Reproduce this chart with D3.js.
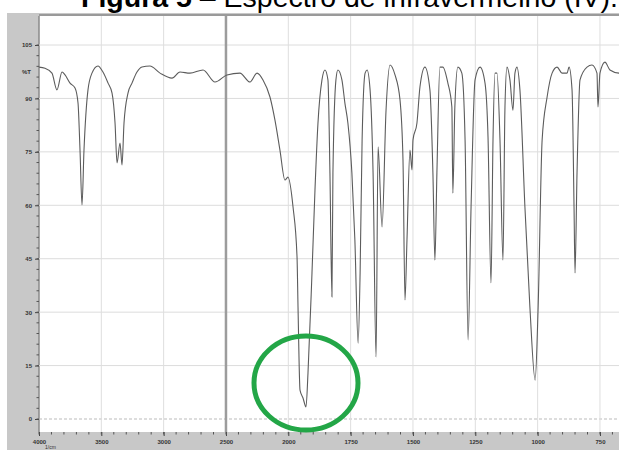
<!DOCTYPE html>
<html>
<head>
<meta charset="utf-8">
<script src="https://cdn.jsdelivr.net/npm/d3@7"></script>
<style>
  body { margin: 0; background: #fff; }
  svg { display: block; font-family: "Liberation Sans", Arial, sans-serif; }
</style>
</head>
<body>
<div id="chart"></div>
<script>
// wavenumbers (cm-1) and transmittance (%T)
let wavenumber = [4000,3952,3896,3856,3815,3791,3751,3711,3687,3671,3655,3639,3607,3575,3527,3487,3446,3414,3390,3374,
  3350,3334,3318,3286,3254,3214,3174,3110,3029,2933,2869,2789,2684,2588,2492,2388,2307,2251,2203,2147,
  2107,2067,2027,2003,1981,1965,1961,1953,1941,1929,1921,1905,1893,1881,1865,1853,1841,1833,1825,1821,
  1809,1801,1785,1773,1761,1745,1733,1720,1712,1704,1692,1684,1672,1660,1648,1640,1624,1608,1592,1572,
  1552,1540,1532,1524,1512,1504,1500,1484,1472,1452,1432,1420,1412,1404,1392,1380,1360,1344,1340,1332,
  1320,1304,1291,1279,1267,1251,1231,1211,1199,1187,1179,1171,1163,1151,1139,1131,1123,1111,1099,1091,
  1083,1071,1051,1031,1010,998,982,962,942,922,902,882,874,862,854,850,842,830,802,782,
  762,758,750,730,710,674,650];
let transmittance = [98.8,98.5,97.1,92.4,97.4,96.6,94.3,92.9,88.7,75.5,60.1,75.5,92.4,97.1,99.1,97.4,94.3,91.5,83.1,71.9,
  77.5,71.3,83.1,91.5,94.3,97.4,98.8,99.1,97.1,95.7,97.4,97.1,98.0,94.6,96.6,97.1,94.6,97.1,95.2,90.4,
  83.9,75.5,67.1,67.9,59.5,45.5,31.4,8.1,5.9,3.4,12.9,41.0,64.3,83.1,95.2,98.0,95.2,69.1,34.3,69.1,
  95.2,98.0,95.2,88.7,83.1,69.1,50.3,21.3,41.0,78.3,97.1,98.0,92.4,69.1,17.4,76.4,53.9,86.7,99.4,96.6,
  89.6,72.7,33.4,50.3,75.5,69.9,78.3,83.1,93.2,98.8,92.4,69.1,44.6,69.1,98.8,98.8,94.3,87.6,63.4,87.6,
  98.8,97.1,78.3,22.2,59.5,95.2,98.8,94.3,79.2,38.2,78.3,97.1,97.1,78.3,44.6,87.6,98.8,95.2,86.7,97.1,
  98.8,92.4,59.5,31.4,10.9,31.4,78.3,90.4,97.1,98.8,97.1,97.1,98.8,92.4,59.5,41.0,69.1,95.2,98.8,99.4,
  97.1,87.6,97.1,100.2,98.0,97.1,97];

let xTicks = [4000,3500,3000,2500,2000,1750,1500,1250,1000,750];
let yTicks = [0,15,30,45,60,75,90,105];
let titleBold = "Figura 5";
let titleRest = " \u2013 Espectro de infravermelho (IV).";

let W = 619, H = 450;
let pLeft = 39, pRight = 619, pTop = 16, pBottom = 432;

let svg = d3.select("#chart").append("svg")
  .attr("width", W).attr("height", H);

// frame
svg.append("rect").attr("x",7).attr("y",13).attr("width",W-7).attr("height",H-13).attr("fill","#c8c8c8");
svg.append("rect").attr("x",pLeft).attr("y",pTop).attr("width",pRight-pLeft).attr("height",pBottom-pTop).attr("fill","#fff");
svg.append("line").attr("x1",pLeft).attr("x2",pRight).attr("y1",pTop-1).attr("y2",pTop-1).attr("stroke","#9a9a9a").attr("stroke-width",2);
svg.append("line").attr("x1",pLeft).attr("x2",pLeft).attr("y1",pTop).attr("y2",pBottom).attr("stroke","#8a8a8a").attr("stroke-width",1.5);

// scales: 2x expanded below 2000 cm-1
let x = d3.scaleLinear().domain([4000,2000,500]).range([39,288.3,662.3]);
let y = d3.scaleLinear().domain([0,105]).range([419,45]);

svg.append("clipPath").attr("id","clip")
  .append("rect").attr("x",pLeft).attr("y",pTop).attr("width",pRight-pLeft).attr("height",pBottom-pTop);

let plot = svg.append("g").attr("clip-path","url(#clip)");

// grid
plot.selectAll(".hg").data(yTicks).enter().append("line")
  .attr("x1",pLeft).attr("x2",pRight)
  .attr("y1",d=>y(d)).attr("y2",d=>y(d))
  .attr("stroke",d=> d==0 ? "#bbb" : "#dcdcdc")
  .attr("stroke-dasharray",d=> d==0 ? "3,2" : null);
plot.selectAll(".vg").data(xTicks.slice(1)).enter().append("line")
  .attr("x1",d=>x(d)).attr("x2",d=>x(d))
  .attr("y1",pTop).attr("y2",pBottom)
  .attr("stroke",d=> d==2500 ? "#9c9c9c" : "#dedede")
  .attr("stroke-width",d=> d==2500 ? 2.5 : 1);

// spectrum
let pts = wavenumber.map((w,i)=>[w,transmittance[i]]);
let line = d3.line().x(d=>x(d[0])).y(d=>y(d[1])).curve(d3.curveMonotoneX);
plot.append("path").datum(pts)
  .attr("d",line)
  .attr("fill","none")
  .attr("stroke","#5c5c5c")
  .attr("stroke-width",1.1);

// y axis
let yAxis = d3.axisLeft(y).tickValues(yTicks).tickSize(4).tickPadding(3);
let gy = svg.append("g").attr("transform","translate("+pLeft+",0)").call(yAxis);
gy.select(".domain").remove();
gy.selectAll("text").attr("font-size",6).attr("fill","#333").attr("font-weight","bold");
gy.selectAll("line").attr("stroke","#444");
let yMinor = d3.range(0,106,3);
svg.selectAll(".ym").data(yMinor).enter().append("line")
  .attr("x1",pLeft-2.5).attr("x2",pLeft).attr("y1",d=>y(d)).attr("y2",d=>y(d)).attr("stroke","#555");
svg.append("text").attr("x",pLeft-8).attr("y",74).attr("text-anchor","end")
  .attr("font-size",6).attr("font-weight","bold").attr("fill","#333").text("%T");

// x axis
let xAxis = d3.axisBottom(x).tickValues(xTicks).tickFormat(d3.format("d")).tickSize(4).tickPadding(4);
let gx = svg.append("g").attr("transform","translate(0,"+pBottom+")").call(xAxis);
gx.select(".domain").remove();
gx.selectAll("text").attr("font-size",6).attr("fill","#333").attr("font-weight","bold");
gx.selectAll("line").attr("stroke","#444");
let xMinor = d3.range(4000,2000,-100).concat(d3.range(2000,600,-50));
svg.selectAll(".xm").data(xMinor).enter().append("line")
  .attr("x1",d=>x(d)).attr("x2",d=>x(d)).attr("y1",pBottom).attr("y2",pBottom+2.5).attr("stroke","#555");
svg.append("text").attr("x",45).attr("y",449).attr("font-size",5).attr("fill","#333").text("1/cm");

// highlight circle
svg.append("ellipse").attr("cx",x(1929)).attr("cy",383).attr("rx",52).attr("ry",47)
  .attr("fill","none").attr("stroke","#23a647").attr("stroke-width",5);

// title, cut at the top edge like the reference
let t = svg.append("text").attr("x",618).attr("y",7).attr("text-anchor","end")
  .attr("font-size",28.5).attr("fill","#000");
t.append("tspan").attr("font-weight","bold").text(titleBold);
t.append("tspan").text(titleRest);
</script>
</body>
</html>
